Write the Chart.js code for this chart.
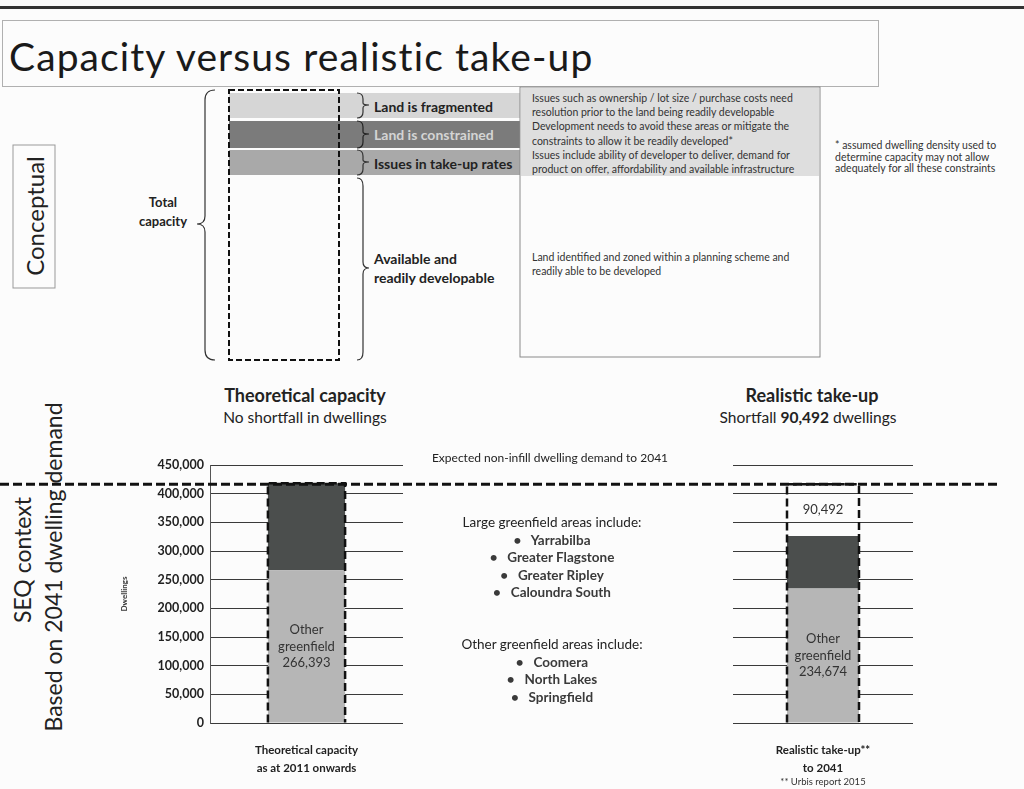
<!DOCTYPE html>
<html>
<head>
<meta charset="utf-8">
<title>Capacity versus realistic take-up</title>
<script src="https://cdn.jsdelivr.net/npm/chart.js@4.4.1/dist/chart.umd.min.js"></script>
<style>
  html, body { margin: 0; padding: 0; }
  body { width: 1024px; height: 789px; position: relative; overflow: hidden; background: #fcfcfc;
         font-family: Lato, "Open Sans", sans-serif; color: #222; }
  .abs { position: absolute; white-space: nowrap; }
  .c { position: absolute; white-space: nowrap; transform: translate(-50%, -50%); text-align: center; }
  .l { position: absolute; white-space: nowrap; transform: translateY(-50%); }
  .b { font-weight: bold; }
  canvas { position: absolute; }
</style>
</head>
<body>

<!-- header -->
<div class="abs" style="left:0;top:6px;width:1024px;height:3px;background:#333;"></div>
<div class="abs" style="left:2px;top:20px;width:875px;height:65px;border:1px solid #b0b0b0;"></div>
<div class="l" style="left:9px;top:56px;font-size:39px;letter-spacing:1.1px;color:#1a1a1a;">Capacity versus realistic take-up</div>

<!-- conceptual diagram -->
<svg class="abs" style="left:0;top:0;" width="1024" height="380">
  <rect x="229" y="93" width="291" height="25" fill="#d6d6d6"/>
  <rect x="229" y="121" width="291" height="27" fill="#7b7b7b"/>
  <rect x="229" y="150" width="291" height="25" fill="#a9a9a9"/>
  <rect x="520" y="87" width="300" height="270" fill="none" stroke="#8a8a8a" stroke-width="1"/>
  <rect x="521" y="88" width="298" height="88" fill="#dedede"/>
  <rect x="229" y="90" width="110" height="270" fill="none" stroke="#111" stroke-width="2" stroke-dasharray="6,3"/>
  <path d="M215 90 Q205 90 205 100 L205 216 Q205 224 197 224 Q205 224 205 232 L205 350 Q205 360 215 360" fill="none" stroke="#333" stroke-width="1.2"/>
  <path d="M357 93 Q363 93 363 99 L363 103 Q363 105 369 105 Q363 105 363 108 L363 112 Q363 118 357 118" fill="none" stroke="#333" stroke-width="1.2"/>
  <path d="M357 121 Q363 121 363 127 L363 132 Q363 134 369 134 Q363 134 363 137 L363 142 Q363 148 357 148" fill="none" stroke="#222" stroke-width="1.2"/>
  <path d="M357 150 Q363 150 363 156 L363 160 Q363 162 369 162 Q363 162 363 165 L363 169 Q363 175 357 175" fill="none" stroke="#333" stroke-width="1.2"/>
  <path d="M357 178 Q363 178 363 186 L363 262 Q363 268 369 268 Q363 268 363 274 L363 352 Q363 360 357 360" fill="none" stroke="#333" stroke-width="1.2"/>
  <rect x="13" y="145" width="42" height="143" fill="none" stroke="#999" stroke-width="1"/>
</svg>
<div class="c" style="left:34px;top:216px;font-size:24px;transform:translate(-50%,-50%) rotate(-90deg);">Conceptual</div>
<div class="c b" style="left:163px;top:212px;font-size:13px;line-height:19px;">Total<br>capacity</div>
<div class="l b" style="left:374px;top:106px;font-size:14px;">Land is fragmented</div>
<div class="l b" style="left:374px;top:134px;font-size:14px;color:#d4d4d4;">Land is constrained</div>
<div class="l b" style="left:374px;top:163px;font-size:14px;">Issues in take-up rates</div>
<div class="l b" style="left:374px;top:268px;font-size:14px;line-height:19px;">Available and<br>readily developable</div>
<div class="abs" style="left:532px;top:92px;font-size:10.5px;line-height:13.5px;color:#333;">
Issues such as ownership / lot size / purchase costs need<br>resolution prior to the  land being readily developable<br>
<span style="line-height:15px">Development needs to avoid these areas or mitigate the<br>constraints to allow it be readily developed*</span><br>
Issues include ability of developer to deliver, demand for<br>product on offer, affordability and available infrastructure</div>
<div class="abs" style="left:532px;top:251px;font-size:10.5px;line-height:13.5px;color:#333;">Land identified and zoned within a planning scheme and<br>readily able to be developed</div>
<div class="abs" style="left:835px;top:140px;font-size:10.5px;line-height:11.5px;color:#333;">* assumed dwelling density used to<br>determine capacity may not allow<br>adequately for all these constraints</div>

<!-- SEQ context side labels -->
<div class="c" style="left:22px;top:560px;font-size:23px;transform:translate(-50%,-50%) rotate(-90deg);">SEQ context</div>
<div class="c" style="left:53px;top:567px;font-size:23px;transform:translate(-50%,-50%) rotate(-90deg);">Based on 2041 dwelling demand</div>

<!-- chart headings -->
<div class="c b" style="left:305px;top:395px;font-size:18px;">Theoretical capacity</div>
<div class="c" style="left:305px;top:417px;font-size:15.5px;">No shortfall in dwellings</div>
<div class="c b" style="left:812px;top:395px;font-size:18px;">Realistic take-up</div>
<div class="c" style="left:808px;top:417px;font-size:15.5px;" id="shortfallText"></div>

<canvas id="theoreticalChart" width="560" height="359" style="left:0;top:430px;"></canvas>
<canvas id="realisticChart" width="464" height="359" style="left:560px;top:430px;"></canvas>

<!-- middle notes -->
<div class="c" style="left:550px;top:457px;font-size:12px;">Expected non-infill dwelling demand to 2041</div>
<div class="c" style="left:552px;top:558px;font-size:13.5px;line-height:17.5px;">
Large greenfield areas include:<br>
<b style="color:#3a3a3a">&bull;&nbsp;&nbsp;&nbsp;Yarrabilba</b><br>
<b style="color:#3a3a3a">&bull;&nbsp;&nbsp;&nbsp;Greater Flagstone</b><br>
<b style="color:#3a3a3a">&bull;&nbsp;&nbsp;&nbsp;Greater Ripley</b><br>
<b style="color:#3a3a3a">&bull;&nbsp;&nbsp;&nbsp;Caloundra South</b></div>
<div class="c" style="left:552px;top:671px;font-size:13.5px;line-height:17.5px;">
Other greenfield areas include:<br>
<b style="color:#3a3a3a">&bull;&nbsp;&nbsp;&nbsp;Coomera</b><br>
<b style="color:#3a3a3a">&bull;&nbsp;&nbsp;&nbsp;North Lakes</b><br>
<b style="color:#3a3a3a">&bull;&nbsp;&nbsp;&nbsp;Springfield</b></div>

<script>
// data
var theoreticalLabels = [['Theoretical capacity', 'as at 2011 onwards']];
var realisticLabels = [['Realistic take-up**', 'to 2041']];
var otherGreenfield = [266393, 234674];   // theoretical, realistic
var largeGreenfield = [151600, 91334];
var shortfall = [0, 90492];
var demand2041 = 416500;
var yTicks = [0, 50000, 100000, 150000, 200000, 250000, 300000, 350000, 400000, 450000];

var FONT = 'Lato, "Open Sans", sans-serif';
var LIGHT = '#b6b6b6';
var DARK = '#4b4e4d';

function fmt(v) { return v.toLocaleString('en-US'); }

document.getElementById('shortfallText').innerHTML = 'Shortfall <b>' + fmt(shortfall[1]) + '</b> dwellings';

// dashed outline round the bar, segment labels, and the demand line
var overlayPlugin = {
    id: 'overlay',
    afterDatasetsDraw: function(chart, args, opts) {
        var ctx = chart.ctx;
        var y = chart.scales.y;
        var bar = chart.getDatasetMeta(0).data[0];
        var half = bar.width / 2;
        var total = 0;
        chart.data.datasets.forEach(function(ds) { total += ds.data[0]; });
        var top = y.getPixelForValue(total);

        ctx.save();
        // segment labels
        ctx.fillStyle = '#333';
        ctx.font = '13px ' + FONT;
        ctx.textAlign = 'center';
        ctx.textBaseline = 'middle';
        chart.data.datasets.forEach(function(ds, i) {
            if (!ds.segLabel) return;
            var el = chart.getDatasetMeta(i).data[0];
            var lines = ds.segLabel.concat([fmt(ds.data[0])]);
            var mid = (el.y + el.base) / 2;
            lines.forEach(function(t, k) {
                ctx.fillText(t, el.x, mid + (k - (lines.length - 1) / 2) * 16.5);
            });
        });

        // dashed outline
        ctx.strokeStyle = '#111';
        ctx.lineWidth = 2.5;
        ctx.setLineDash([8, 4]);
        ctx.beginPath();
        ctx.moveTo(bar.x - half, bar.base);
        ctx.lineTo(bar.x - half, top);
        ctx.lineTo(bar.x + half, top);
        ctx.lineTo(bar.x + half, bar.base);
        ctx.stroke();

        // expected demand line
        var yd = y.getPixelForValue(demand2041);
        ctx.lineWidth = 3;
        ctx.setLineDash([9, 4]);
        ctx.lineDashOffset = opts.offset || 0;
        ctx.beginPath();
        ctx.moveTo(0, yd);
        ctx.lineTo(opts.end, yd);
        ctx.stroke();
        ctx.restore();
    }
};

function makeChart(id, labels, idx, opt) {
    var datasets = [
        { label: 'Other greenfield', data: [otherGreenfield[idx]], backgroundColor: LIGHT, segLabel: ['Other', 'greenfield'] },
        { label: 'Large greenfield', data: [largeGreenfield[idx]], backgroundColor: DARK }
    ];
    if (shortfall[idx] > 0) {
        datasets.push({ label: 'Shortfall', data: [shortfall[idx]], backgroundColor: 'rgba(0,0,0,0)', segLabel: [] });
    }
    return new Chart(document.getElementById(id).getContext('2d'), {
        type: 'bar',
        data: { labels: labels, datasets: datasets },
        options: {
            responsive: false,
            animation: false,
            layout: { padding: { top: 35, right: opt.padRight, left: opt.padLeft, bottom: 0 } },
            datasets: { bar: { barPercentage: 1, categoryPercentage: opt.catPct } },
            plugins: {
                legend: { display: false },
                tooltip: { enabled: false },
                overlay: { end: opt.lineEnd, offset: opt.dashOffset }
            },
            scales: {
                x: {
                    stacked: true,
                    grid: { display: false },
                    border: { display: false },
                    ticks: { color: '#222', padding: 11, font: { family: FONT, size: 11.5, weight: 'bold', lineHeight: 1.5 } },
                    title: opt.xTitle ? { display: true, text: opt.xTitle, color: '#333', padding: { top: 0, bottom: 1 }, font: { family: FONT, size: 9.5 } } : { display: false },
                    afterFit: function(s) { s.height = 66; }
                },
                y: {
                    stacked: true,
                    min: 0,
                    max: yTicks[yTicks.length - 1],
                    afterBuildTicks: function(s) { s.ticks = yTicks.map(function(v) { return { value: v }; }); },
                    grid: { color: '#3a3a3a', lineWidth: 1, drawTicks: false },
                    border: { display: opt.showTicks, color: '#555', width: 1 },
                    ticks: {
                        display: opt.showTicks,
                        color: '#222',
                        padding: 6,
                        font: { family: FONT, size: 12.5, weight: 'bold' },
                        callback: function(v) { return fmt(v); }
                    },
                    title: opt.showTicks ? { display: true, text: 'Dwellings', color: '#333', padding: 2, font: { family: FONT, size: 8, weight: 'bold' } } : { display: false },
                    afterFit: function(s) { s.width = opt.yWidth; }
                }
            }
        },
        plugins: [overlayPlugin]
    });
}

makeChart('theoreticalChart', theoreticalLabels, 0,
    { padLeft: 118, yWidth: 92, padRight: 157, catPct: 0.4, showTicks: true, lineEnd: 560, dashOffset: 0 });
makeChart('realisticChart', realisticLabels, 1,
    { padLeft: 0, yWidth: 173, padRight: 111, catPct: 0.4, showTicks: false, lineEnd: 438, dashOffset: 560 % 13, xTitle: '** Urbis report 2015' });
</script>
</body>
</html>
